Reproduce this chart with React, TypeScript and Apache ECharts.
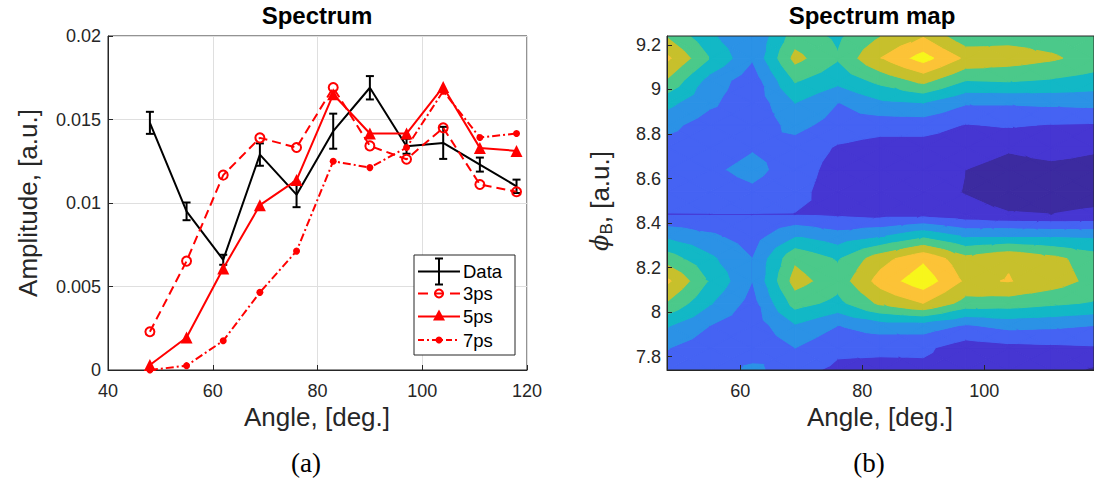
import React, { useEffect, useRef } from "react";
import * as echarts from "echarts";

// ---------- Left panel data ----------
const angles = [48, 55, 62, 69, 76, 83, 90, 97, 104, 111, 118];
const dataAmp = [0.0148, 0.0095, 0.0066, 0.0129, 0.0105, 0.0143, 0.0169, 0.0134, 0.0136, 0.0123, 0.011];
const dataErr = [0.00066, 0.00053, 0.0003, 0.00067, 0.00075, 0.00105, 0.0007, 0.00045, 0.00096, 0.00042, 0.0004];
const amp3ps = [0.00229, 0.00652, 0.01167, 0.0139, 0.01332, 0.01691, 0.01342, 0.01262, 0.0145, 0.01111, 0.01067];
const amp5ps = [0.0003, 0.00195, 0.00608, 0.00987, 0.01137, 0.01651, 0.01416, 0.01416, 0.01695, 0.0133, 0.01312];
const amp7ps = [0.0, 0.00026, 0.00175, 0.00465, 0.00712, 0.0125, 0.01212, 0.01332, 0.0167, 0.01392, 0.01416];
const legendNames = ["Data", "3ps", "5ps", "7ps"];

// ---------- Right panel data (contour levels, rows from phi=7.74 up to 9.24) ----------
const phiValues = [7.74, 7.84, 7.94, 8.04, 8.14, 8.24, 8.34, 8.44, 8.54, 8.64, 8.74, 8.84, 8.94, 9.04, 9.14, 9.24];
const mapLevels = [
  [2.6, 2.2, 3.3, 2.3, 1.8, 1.7, 1.75, 1.5, 1.5, 1.5, 0.85],
  [3.05, 2.4, 2.2, 3.0, 2.2, 2.2, 2.2, 1.5, 1.7, 1.8, 1.9],
  [4.1, 3.0, 2.4, 3.9, 3.0, 3.5, 3.5, 2.9, 3.3, 3.2, 3.0],
  [5.9, 4.1, 2.6, 5.4, 4.7, 6.2, 7.0, 5.6, 5.5, 5.2, 4.9],
  [7.2, 4.9, 3.0, 6.4, 5.4, 7.4, 8.6, 6.8, 7.05, 6.5, 5.7],
  [5.5, 4.2, 3.0, 5.8, 4.9, 6.6, 7.8, 6.3, 6.9, 6.3, 5.5],
  [3.8, 3.2, 2.5, 4.0, 3.4, 3.9, 4.8, 3.9, 4.0, 3.9, 3.8],
  [1.97, 1.98, 1.98, 1.97, 1.8, 1.6, 1.6, 1.3, 1.05, 1.0, 1.1],
  [2.5, 2.5, 2.8, 2.3, 1.5, 1.5, 1.4, 0.95, 0.6, 0.7, 0.75],
  [2.4, 2.8, 3.3, 2.5, 1.6, 1.5, 1.5, 1.0, 0.7, 0.8, 0.75],
  [2.6, 2.4, 2.9, 2.6, 1.9, 1.6, 1.6, 1.4, 1.1, 1.3, 1.1],
  [3.3, 2.5, 2.4, 3.3, 2.6, 2.4, 2.4, 1.95, 2.1, 1.95, 1.9],
  [4.3, 3.2, 2.3, 4.0, 3.0, 3.8, 4.0, 3.1, 3.1, 3.2, 3.3],
  [5.9, 3.6, 2.4, 5.1, 4.3, 5.3, 6.3, 5.0, 5.1, 4.9, 4.6],
  [7.2, 5.0, 3.1, 6.3, 5.1, 7.0, 8.4, 6.8, 6.5, 6.15, 5.6],
  [5.9, 4.2, 2.98, 5.5, 4.8, 6.0, 6.9, 5.2, 5.6, 5.5, 5.2],
];
const bandColors = ["#3c2ba0", "#4636d2", "#4563f3", "#2b92e6", "#12b8c6", "#4bc98a", "#c7c02c", "#fcc337", "#f7f61b"];
const mapXTicks = [60, 80, 100];
const mapYTicks = [7.8, 8, 8.2, 8.4, 8.6, 8.8, 9, 9.2];

const FONT = "Liberation Sans";
const AX = "#262626";

type P = [number, number, number];
function clipPoly(poly: P[], f: (p: P) => number): P[] {
  const out: P[] = [];
  for (let a = 0; a < poly.length; a++) {
    const p = poly[a];
    const q = poly[(a + 1) % poly.length];
    const fp = f(p);
    const fq = f(q);
    if (fp >= 0) out.push(p);
    if ((fp >= 0) !== (fq >= 0)) {
      const t = fp / (fp - fq);
      out.push([p[0] + t * (q[0] - p[0]), p[1] + t * (q[1] - p[1]), p[2] + t * (q[2] - p[2])]);
    }
  }
  return out;
}

export default function App() {
  const ref = useRef<HTMLDivElement>(null);
  useEffect(() => {
    if (!ref.current) return;
    const chart = echarts.init(ref.current, null, { renderer: "svg" });

    const nx = angles.length;
    const ny = phiValues.length;
    const cells: number[][] = [];
    for (let j = 0; j < ny - 1; j++) for (let i = 0; i < nx - 1; i++) cells.push([angles[i], phiValues[j], i, j]);

    const contourItem = (params: any, api: any) => {
      const c = cells[params.dataIndex];
      const i = c[2];
      const j = c[3];
      const p00: P = [angles[i], phiValues[j], mapLevels[j][i]];
      const p10: P = [angles[i + 1], phiValues[j], mapLevels[j][i + 1]];
      const p11: P = [angles[i + 1], phiValues[j + 1], mapLevels[j + 1][i + 1]];
      const p01: P = [angles[i], phiValues[j + 1], mapLevels[j + 1][i]];
      const ctr: P = [
        (p00[0] + p10[0]) / 2,
        (p00[1] + p01[1]) / 2,
        (p00[2] + p10[2] + p11[2] + p01[2]) / 4,
      ];
      const tris: P[][] = [
        [ctr, p00, p10],
        [ctr, p10, p11],
        [ctr, p11, p01],
        [ctr, p01, p00],
      ];
      const children: any[] = [];
      for (const tri of tris) {
        for (let k = 0; k < bandColors.length; k++) {
          let poly = tri;
          if (k > 0) poly = clipPoly(poly, (p) => p[2] - k);
          if (poly.length >= 3 && k < bandColors.length - 1) poly = clipPoly(poly, (p) => k + 1 - p[2]);
          if (poly.length >= 3) {
            children.push({
              type: "polygon",
              shape: { points: poly.map((p) => api.coord([p[0], p[1]])) },
              style: { fill: bandColors[k], stroke: bandColors[k], lineWidth: 1.1 },
            });
          }
        }
      }
      return { type: "group", children };
    };

    const errItem = (params: any, api: any) => {
      const x = api.value(0);
      const y = api.value(1);
      const e = api.value(2);
      const lo = api.coord([x, y - e]);
      const hi = api.coord([x, y + e]);
      const cw = 4;
      const st = { stroke: "#000", lineWidth: 2 };
      return {
        type: "group",
        children: [
          { type: "line", shape: { x1: lo[0], y1: lo[1], x2: hi[0], y2: hi[1] }, style: st },
          { type: "line", shape: { x1: lo[0] - cw, y1: lo[1], x2: lo[0] + cw, y2: lo[1] }, style: st },
          { type: "line", shape: { x1: hi[0] - cw, y1: hi[1], x2: hi[0] + cw, y2: hi[1] }, style: st },
        ],
      };
    };

    const tickLabel = { fontFamily: FONT, fontSize: 18, color: AX };
    const red = "#ff0000";

    // legend (drawn as graphics)
    const lx1 = 418, lx2 = 460, lcx = 439, ltx = 463;
    const ly = [271.5, 293.5, 316.5, 340];
    const legendEls: any[] = [
      { type: "rect", shape: { x: 414, y: 255, width: 101, height: 100 }, style: { fill: "#fff", stroke: AX, lineWidth: 1 }, z: 100 },
      // Data
      { type: "line", shape: { x1: lx1, y1: ly[0], x2: lx2, y2: ly[0] }, style: { stroke: "#000", lineWidth: 2 }, z: 101 },
      { type: "line", shape: { x1: lcx, y1: ly[0] - 13, x2: lcx, y2: ly[0] + 13 }, style: { stroke: "#000", lineWidth: 2 }, z: 101 },
      { type: "line", shape: { x1: lcx - 4, y1: ly[0] - 13, x2: lcx + 4, y2: ly[0] - 13 }, style: { stroke: "#000", lineWidth: 2 }, z: 101 },
      { type: "line", shape: { x1: lcx - 4, y1: ly[0] + 13, x2: lcx + 4, y2: ly[0] + 13 }, style: { stroke: "#000", lineWidth: 2 }, z: 101 },
      // 3ps
      { type: "line", shape: { x1: lx1, y1: ly[1], x2: lx2, y2: ly[1] }, style: { stroke: red, lineWidth: 2, lineDash: [10, 6] }, z: 101 },
      { type: "circle", shape: { cx: lcx, cy: ly[1], r: 4 }, style: { fill: "none", stroke: red, lineWidth: 2 }, z: 101 },
      // 5ps
      { type: "line", shape: { x1: lx1, y1: ly[2], x2: lx2, y2: ly[2] }, style: { stroke: red, lineWidth: 2 }, z: 101 },
      { type: "polygon", shape: { points: [[lcx, ly[2] - 7], [lcx - 6, ly[2] + 4], [lcx + 6, ly[2] + 4]] }, style: { fill: red }, z: 101 },
      // 7ps
      { type: "line", shape: { x1: lx1, y1: ly[3], x2: lx2, y2: ly[3] }, style: { stroke: red, lineWidth: 2, lineDash: [6, 3, 2, 3] }, z: 101 },
      { type: "circle", shape: { cx: lcx, cy: ly[3], r: 3.5 }, style: { fill: red }, z: 101 },
    ];
    legendNames.forEach((n, k) => {
      legendEls.push({
        type: "text",
        x: ltx,
        y: ly[k],
        z: 101,
        style: { text: n, fontFamily: FONT, fontSize: 18.5, fill: "#000", align: "left", verticalAlign: "middle", textAlign: "left", textVerticalAlign: "middle" },
      });
    });

    const txt = (text: string, x: number, y: number, extra: any = {}, rot = 0) => ({
      type: "text",
      x,
      y,
      rotation: rot,
      z: 100,
      style: {
        text,
        fontFamily: FONT,
        fontSize: 26,
        fill: AX,
        align: "center",
        verticalAlign: "middle",
        textAlign: "center",
        textVerticalAlign: "middle",
        ...extra,
      },
    });

    const option: any = {
      animation: false,
      backgroundColor: "#ffffff",
      grid: [
        { left: 108, top: 36, width: 419, height: 334, show: true, borderColor: AX, borderWidth: 1, backgroundColor: "#fff" },
        { left: 667, top: 36, width: 437.5, height: 334, show: true, borderColor: AX, borderWidth: 1, backgroundColor: "transparent", z: 10 },
      ],
      xAxis: [
        {
          gridIndex: 0,
          type: "value",
          min: 40,
          max: 120,
          interval: 20,
          axisLine: { show: true, onZero: false, lineStyle: { color: AX, width: 1 } },
          axisTick: { show: true, inside: true, length: 5, lineStyle: { color: AX } },
          axisLabel: { ...tickLabel, margin: 12 },
          splitLine: { show: true, lineStyle: { color: "#dfdfdf", width: 1 } },
        },
        {
          gridIndex: 1,
          type: "value",
          min: 48,
          max: 118,
          z: 10,
          axisLine: { show: true, onZero: false, lineStyle: { color: AX, width: 1 } },
          axisTick: { show: true, inside: true, length: 5, lineStyle: { color: AX }, customValues: mapXTicks },
          axisLabel: { ...tickLabel, margin: 12, customValues: mapXTicks },
          splitLine: { show: false },
        },
      ],
      yAxis: [
        {
          gridIndex: 0,
          type: "value",
          min: 0,
          max: 0.02,
          interval: 0.005,
          axisLine: { show: true, onZero: false, lineStyle: { color: AX, width: 1 } },
          axisTick: { show: true, inside: true, length: 5, lineStyle: { color: AX } },
          axisLabel: { ...tickLabel, margin: 7 },
          splitLine: { show: true, lineStyle: { color: "#dfdfdf", width: 1 } },
        },
        {
          gridIndex: 1,
          type: "value",
          min: 7.74,
          max: 9.24,
          z: 10,
          axisLine: { show: true, onZero: false, lineStyle: { color: AX, width: 1 } },
          axisTick: { show: true, inside: true, length: 5, lineStyle: { color: AX }, customValues: mapYTicks },
          axisLabel: { ...tickLabel, margin: 6, customValues: mapYTicks },
          splitLine: { show: false },
        },
      ],
      series: [
        {
          name: "Data",
          type: "line",
          xAxisIndex: 0,
          yAxisIndex: 0,
          data: angles.map((a, i) => [a, dataAmp[i]]),
          symbol: "none",
          lineStyle: { color: "#000", width: 2 },
          itemStyle: { color: "#000" },
          z: 3,
        },
        {
          name: "DataErr",
          type: "custom",
          xAxisIndex: 0,
          yAxisIndex: 0,
          data: angles.map((a, i) => [a, dataAmp[i], dataErr[i]]),
          encode: { x: 0, y: 1 },
          renderItem: errItem,
          z: 3,
        },
        {
          name: "3ps",
          type: "line",
          xAxisIndex: 0,
          yAxisIndex: 0,
          data: angles.map((a, i) => [a, amp3ps[i]]),
          symbol: "circle",
          symbolSize: 9,
          showAllSymbol: true,
          lineStyle: { color: red, width: 2, type: [9, 5] },
          itemStyle: { color: "rgba(255,0,0,0)", borderColor: red, borderWidth: 2 },
          z: 4,
        },
        {
          name: "5ps",
          type: "line",
          xAxisIndex: 0,
          yAxisIndex: 0,
          data: angles.map((a, i) => [a, amp5ps[i]]),
          symbol: "triangle",
          symbolSize: 12,
          showAllSymbol: true,
          lineStyle: { color: red, width: 2 },
          itemStyle: { color: red },
          z: 5,
        },
        {
          name: "7ps",
          type: "line",
          xAxisIndex: 0,
          yAxisIndex: 0,
          data: angles.map((a, i) => [a, amp7ps[i]]),
          symbol: "circle",
          symbolSize: 7,
          showAllSymbol: true,
          lineStyle: { color: red, width: 2, type: [8, 3, 2, 3] },
          itemStyle: { color: red },
          z: 6,
        },
        {
          name: "Spectrum map",
          type: "custom",
          xAxisIndex: 1,
          yAxisIndex: 1,
          data: cells.map((c) => [c[0], c[1]]),
          encode: { x: 0, y: 1 },
          renderItem: contourItem,
          clip: true,
          z: 2,
        },
      ],
      graphic: [
        txt("Spectrum", 317, 15, { fontWeight: "bold", fontSize: 24, fill: "#000" }),
        txt("Spectrum map", 872, 15, { fontWeight: "bold", fontSize: 24, fill: "#000" }),
        txt("Angle, [deg.]", 317, 417),
        txt("Angle, [deg.]", 880, 417),
        txt("Amplitude, [a.u.]", 28, 203, {}, Math.PI / 2),
        {
          type: "text",
          x: 600,
          y: 201,
          rotation: Math.PI / 2,
          z: 100,
          style: {
            text: "{phi|ϕ}{sub|B}{t|, [a.u.]}",
            align: "center",
            verticalAlign: "middle",
            textAlign: "center",
            textVerticalAlign: "middle",
            fill: AX,
            rich: {
              phi: { fontFamily: "DejaVu Serif", fontStyle: "italic", fontSize: 24, fill: AX, lineHeight: 30, verticalAlign: "middle" },
              sub: { fontFamily: FONT, fontSize: 17, fill: AX, lineHeight: 14, verticalAlign: "bottom" },
              t: { fontFamily: FONT, fontSize: 26, fill: AX, lineHeight: 30, verticalAlign: "middle" },
            },
          },
        },
        txt("(a)", 306, 463, { fontFamily: "Liberation Serif", fontSize: 27, fill: "#000" }),
        txt("(b)", 869, 463, { fontFamily: "Liberation Serif", fontSize: 27, fill: "#000" }),
        ...legendEls,
      ],
    };

    chart.setOption(option);
    return () => chart.dispose();
  }, []);

  return (
    <div
      ref={ref}
      style={{ position: "fixed", left: 0, top: 0, width: 1094, height: 487, background: "#ffffff" }}
    />
  );
}
